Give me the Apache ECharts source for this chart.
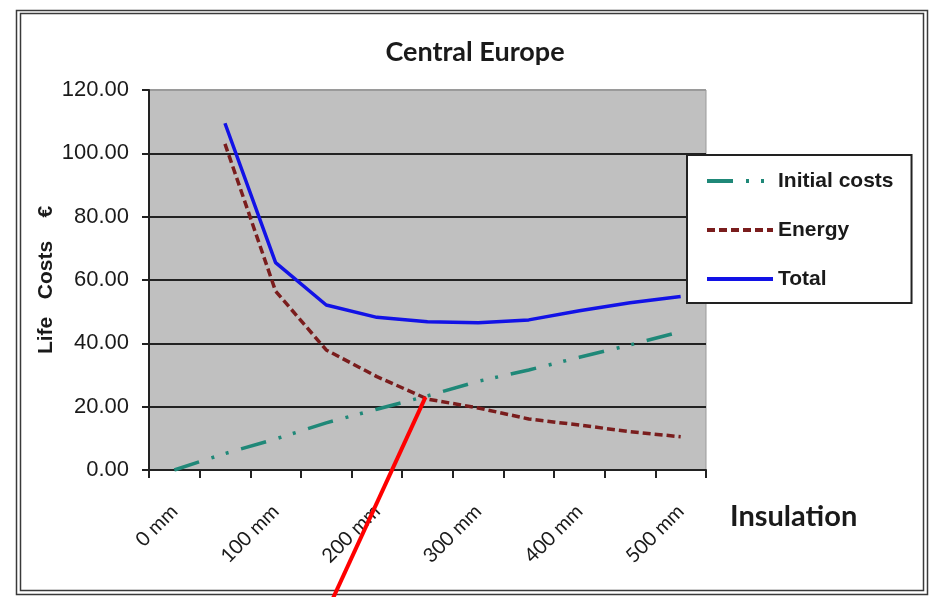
<!DOCTYPE html>
<html>
<head>
<meta charset="utf-8">
<title>Central Europe</title>
<script src="https://cdn.jsdelivr.net/npm/echarts@6/dist/echarts.min.js"></script>
<style>
  html, body { margin: 0; padding: 0; background: #ffffff; }
  #chart { width: 932px; height: 597px; }
</style>
</head>
<body>
<div id="chart"></div>
<script>
// Insulation thickness steps (every other one is labelled)
const categories = ['0 mm', '50 mm', '100 mm', '150 mm', '200 mm', '250 mm',
                    '300 mm', '350 mm', '400 mm', '450 mm', '500 mm'];

// Life costs in € per insulation thickness
const initialCosts = [0, 5.2, 9.8, 14.9, 19.2, 23.4, 28.0, 31.6, 35.6, 39.5, 43.7];
const energyCosts  = [null, 103.0, 56.5, 37.9, 29.5, 22.4, 19.6, 16.1, 14.2, 12.1, 10.5];
const totalCosts   = [null, 109.5, 65.5, 52.1, 48.2, 46.8, 46.5, 47.4, 50.3, 52.8, 54.8];

// Y axis range / step
const yMin = 0, yMax = 120, yStep = 20;

// Break-even marker: where initial costs meet energy costs
const breakEven = ['250 mm', 23];

const chart = echarts.init(document.getElementById('chart'), null, { renderer: 'canvas' });

const frameGraphics = [
  // double frame around the figure
  { type: 'rect', shape: { x: 16.5, y: 10.5, width: 911, height: 584 },
    style: { fill: null, stroke: '#3a3a3a', lineWidth: 1.5 }, silent: true },
  { type: 'rect', shape: { x: 20.5, y: 13.5, width: 903, height: 577 },
    style: { fill: null, stroke: '#3a3a3a', lineWidth: 1.5 }, silent: true },
  { type: 'text', left: 730, top: 502,
    style: { text: 'Insulation', fontFamily: 'Lato', fontWeight: 'bold', fontSize: 29, fill: '#1a1a1a' } }
];

const option = {
  backgroundColor: '#ffffff',
  animation: false,
  title: {
    text: 'Central Europe',
    left: 470,
    textAlign: 'center',
    top: 34,
    textStyle: { fontFamily: 'Lato', fontWeight: 'bold', fontSize: 27, color: '#1a1a1a' }
  },
  grid: { left: 149, right: 226, top: 90, bottom: 127, show: true,
          backgroundColor: '#c0c0c0', borderColor: '#9a9a9a', borderWidth: 1 },
  legend: {
    orient: 'vertical',
    left: 687, top: 155,
    backgroundColor: '#ffffff',
    borderColor: '#222222', borderWidth: 2,
    padding: [14, 18, 12, 18],
    itemGap: 25,
    itemWidth: 66, itemHeight: 14,
    itemStyle: { opacity: 0 },
    lineStyle: { width: 4 },
    textStyle: { fontFamily: 'Liberation Sans', fontWeight: 'bold', fontSize: 21,
                 color: '#1a1a1a', lineHeight: 24 },
    data: ['Initial costs', 'Energy', 'Total']
  },
  xAxis: {
    type: 'category',
    data: categories,
    boundaryGap: true,
    axisLine: { lineStyle: { color: '#222222', width: 2 } },
    axisTick: { show: true, interval: 0, length: 8, lineStyle: { color: '#222222', width: 2 } },
    axisLabel: { interval: 1, rotate: 45, margin: 38, fontFamily: 'Lato', fontSize: 20, color: '#1a1a1a' },
    splitLine: { show: false }
  },
  yAxis: {
    type: 'value',
    min: yMin, max: yMax, interval: yStep,
    name: 'Life   Costs    €',
    nameLocation: 'middle',
    nameGap: 92,
    nameMoveOverlap: false,
    nameRotate: 90,
    nameTextStyle: { fontFamily: 'Liberation Sans', fontWeight: 'bold', fontSize: 21, color: '#1a1a1a' },
    axisLine: { show: true, lineStyle: { color: '#222222', width: 2 } },
    axisTick: { show: true, length: 7, lineStyle: { color: '#222222', width: 2 } },
    axisLabel: { margin: 20, fontFamily: 'Liberation Sans', fontSize: 22, color: '#1a1a1a',
                 formatter: v => v.toFixed(2) },
    splitLine: { show: true, lineStyle: {
      color: ['#222222', '#222222', '#222222', '#222222', '#222222', '#222222', '#9a9a9a'], width: 2 } }
  },
  series: [
    {
      name: 'Initial costs', type: 'line', data: initialCosts,
      symbol: 'none', z: 3,
      lineStyle: { color: '#1f8878', width: 3.5, type: [26, 13, 3, 12, 3, 13] },
      itemStyle: { color: '#1f8878' }
    },
    {
      name: 'Energy', type: 'line', data: energyCosts,
      symbol: 'none', z: 4, connectNulls: false,
      lineStyle: { color: '#7a1d1d', width: 3.5, type: [8, 4] },
      itemStyle: { color: '#7a1d1d' }
    },
    {
      name: 'Total', type: 'line', data: totalCosts,
      symbol: 'none', z: 5,
      lineStyle: { color: '#1212e6', width: 3.5 },
      itemStyle: { color: '#1212e6' }
    }
  ],
  graphic: frameGraphics
};

chart.setOption(option);

// red pointer from the bottom edge up to the break-even point
const tip = chart.convertToPixel({ xAxisIndex: 0, yAxisIndex: 0 }, breakEven);
const dxPerDy = 0.46;
const bottomY = 600;
chart.setOption({
  graphic: frameGraphics.concat([
    { type: 'line', z: 100,
      shape: { x1: tip[0] - 2, y1: tip[1], x2: tip[0] - 2 - dxPerDy * (bottomY - tip[1]), y2: bottomY },
      style: { stroke: '#ff0000', lineWidth: 4 } }
  ])
});
</script>
</body>
</html>
